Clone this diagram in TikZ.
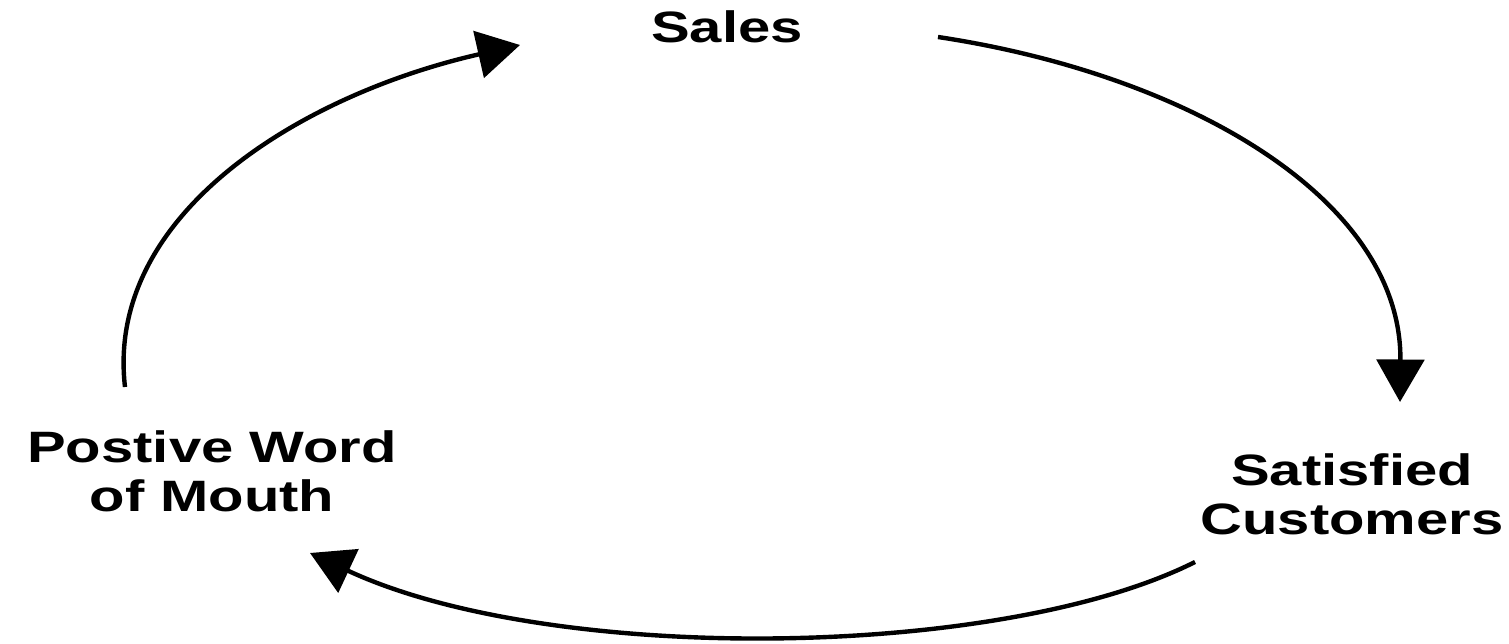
\documentclass[tikz,border=0pt]{standalone}
\usepackage{fontspec}
\newfontfamily\lab[FakeStretch=1.32]{Liberation Sans}
\usetikzlibrary{arrows.meta}
\tikzset{
  lbl/.style={font={\lab\bfseries\fontsize{25}{28.45}\selectfont}, align=center, inner sep=0pt, anchor=base},
  loop/.style={line width=2.5pt, -{Triangle[length=0.85cm,width=0.95cm]}}
}
\begin{document}
\begin{tikzpicture}[x=0.02cm,y=-0.02cm]
\useasboundingbox (0,0) rectangle (1509,644);
\node[lbl] (sales) at (727,43) {Sales};
\node[lbl] (pwom) at (212,512) {Postive Word\\of Mouth};
\node[lbl] (sat) at (1352,535) {Satisfied\\Customers};
\coordinate (a1s) at (938,37);
\coordinate (a1e) at (1400,402);
\coordinate (a2s) at (1195,562);
\coordinate (a2e) at (310,553);
\coordinate (a3s) at (125,387);
\coordinate (a3e) at (520,45);
\draw[loop] (a1s) .. controls (1190,75) and (1402,200) .. (a1e);
\draw[loop] (a2s) .. controls (1000,660) and (550,665) .. (a2e);
\draw[loop] (a3s) .. controls (105,215) and (300,95) .. (a3e);
\end{tikzpicture}
\end{document}
